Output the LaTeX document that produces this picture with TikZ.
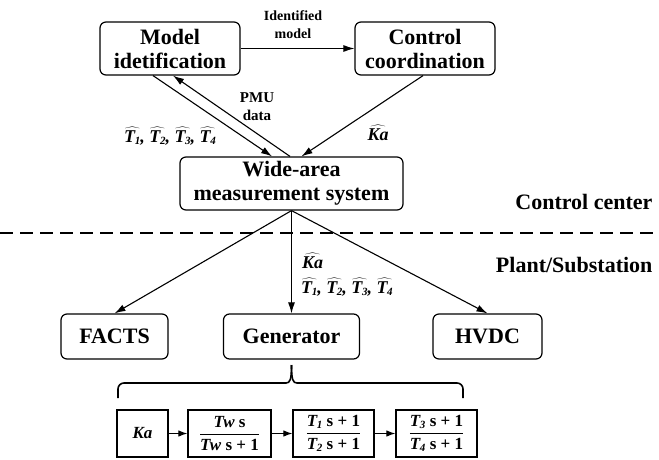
\documentclass[tikz,border=0pt]{standalone}
\usepackage{fontspec}
\setmainfont{Liberation Serif}
\usetikzlibrary{arrows.meta}
\newcommand{\bigtxt}{\fontsize{22}{24}\selectfont\bfseries}
\newcommand{\Tn}[1]{\textit{T\kern-0.02em\raisebox{-0.25ex}{\fontsize{11}{11}\selectfont #1}}}
\newcommand{\hatT}[1]{$\widehat{\mbox{\Tn{#1}}}$}
\newcommand{\hatKa}{$\widehat{\mbox{\itshape Ka}}$}
\newcommand{\tf}[2]{$\displaystyle{\mbox{#1}\above 1.2pt\mbox{#2}}$}

\begin{document}
\begin{tikzpicture}[x=1pt,y=-1pt,
    box/.style={draw, rounded corners=6pt, line width=1.2pt, align=center, inner sep=0pt, font=\bigtxt},
    blk/.style={draw, line width=1.2pt, inner sep=0pt, minimum height=47pt, font={\fontsize{17}{19}\selectfont\bfseries}},
    arr/.style={line width=1.1pt, -{Latex[length=11pt,width=7pt]}},
    sarr/.style={line width=1.1pt, -{Latex[length=9pt,width=6.5pt]}},
    lbl/.style={align=center, font={\fontsize{14}{18}\selectfont\bfseries}},
    hatlbl/.style={inner sep=1pt, font={\fontsize{18}{20}\selectfont\bfseries\itshape}},
    cutline/.style={line width=2pt, dash pattern=on 13pt off 7pt}]
    \useasboundingbox (0,0) rectangle (659,460);

    % Control center
    \node[box, minimum width=140pt, minimum height=53pt] (midt) at (170,48.5) {Model\\idetification};
    \node[box, minimum width=140pt, minimum height=53pt] (ctrl) at (425,48.5) {Control\\coordination};
    \node[box, minimum width=223pt, minimum height=53pt] (wams) at (291.5,183.5) {Wide-area\\measurement system};

    \draw[arr] (midt) -- (ctrl);
    \draw[arr] ([xshift=-17pt]midt.south) -- ([xshift=-19.5pt]wams.north);
    \draw[arr] ([xshift=-1.5pt]wams.north) -- ([xshift=3pt]midt.south);
    \draw[arr] ([xshift=-2pt]ctrl.south) -- ([xshift=10pt]wams.north);

    \node[lbl] (idm) at (293,25) {Identified\\model};
    \node[lbl, font={\fontsize{15}{18}\selectfont\bfseries}] (pmu) at (257,107) {PMU\\data};
    \node[hatlbl] (tup) at (170,136) {\hatT{1}, \hatT{2}, \hatT{3}, \hatT{4}};
    \node[hatlbl] (kup) at (378,133) {\hatKa};

    % Separation
    \node[anchor=east, font=\bigtxt] (cc) at (656,202) {Control center};
    \draw[cutline] (0,233) -- (659,233);
    \node[anchor=east, font=\bigtxt] (ps) at (656,265) {Plant/Substation};

    % Plant/Substation
    \node[box, minimum width=107pt, minimum height=45pt] (facts) at (114.5,336.5) {FACTS};
    \node[box, minimum width=136pt, minimum height=45pt] (gen) at (291.5,336.5) {Generator};
    \node[box, minimum width=109pt, minimum height=45pt] (hvdc) at (487.5,336.5) {HVDC};

    \draw[arr] (wams.south) -- (facts.north);
    \draw[arr] (wams.south) -- (gen.north);
    \draw[arr] (wams.south) -- (hvdc.north);

    \node[hatlbl, anchor=west] (kdn) at (301,261) {\hatKa};
    \node[hatlbl, anchor=west] (tdn) at (300,287) {\hatT{1}, \hatT{2}, \hatT{3}, \hatT{4}};

    % Brace
    \draw[line width=1.6pt, rounded corners=6pt] (118,398) -- (118,383) -- (286,383);
    \draw[line width=1.6pt] (286,383) .. controls (290,383) and (291.5,380) .. (291.5,365);
    \draw[line width=1.6pt] (291.5,365) .. controls (291.5,380) and (293,383) .. (297,383);
    \draw[line width=1.6pt, rounded corners=6pt] (297,383) -- (463,383) -- (463,398);

    % Blocks
    \node[blk, minimum width=51pt] (ka) at (142.5,433.5) {\itshape Ka};
    \node[blk, minimum width=83pt] (tw) at (229.5,433.5) {\tf{\itshape Tw\upshape\ s}{\itshape Tw\upshape\ s + 1}};
    \node[blk, minimum width=81pt] (tone) at (333.5,433.5) {\tf{\Tn{1}\ s + 1}{\Tn{2}\ s + 1}};
    \node[blk, minimum width=81pt] (tthree) at (436.5,433.5) {\tf{\Tn{3}\ s + 1}{\Tn{4}\ s + 1}};

    \draw[sarr] (ka) -- (tw);
    \draw[sarr] (tw) -- (tone);
    \draw[sarr] (tone) -- (tthree);

\end{tikzpicture}
\end{document}
